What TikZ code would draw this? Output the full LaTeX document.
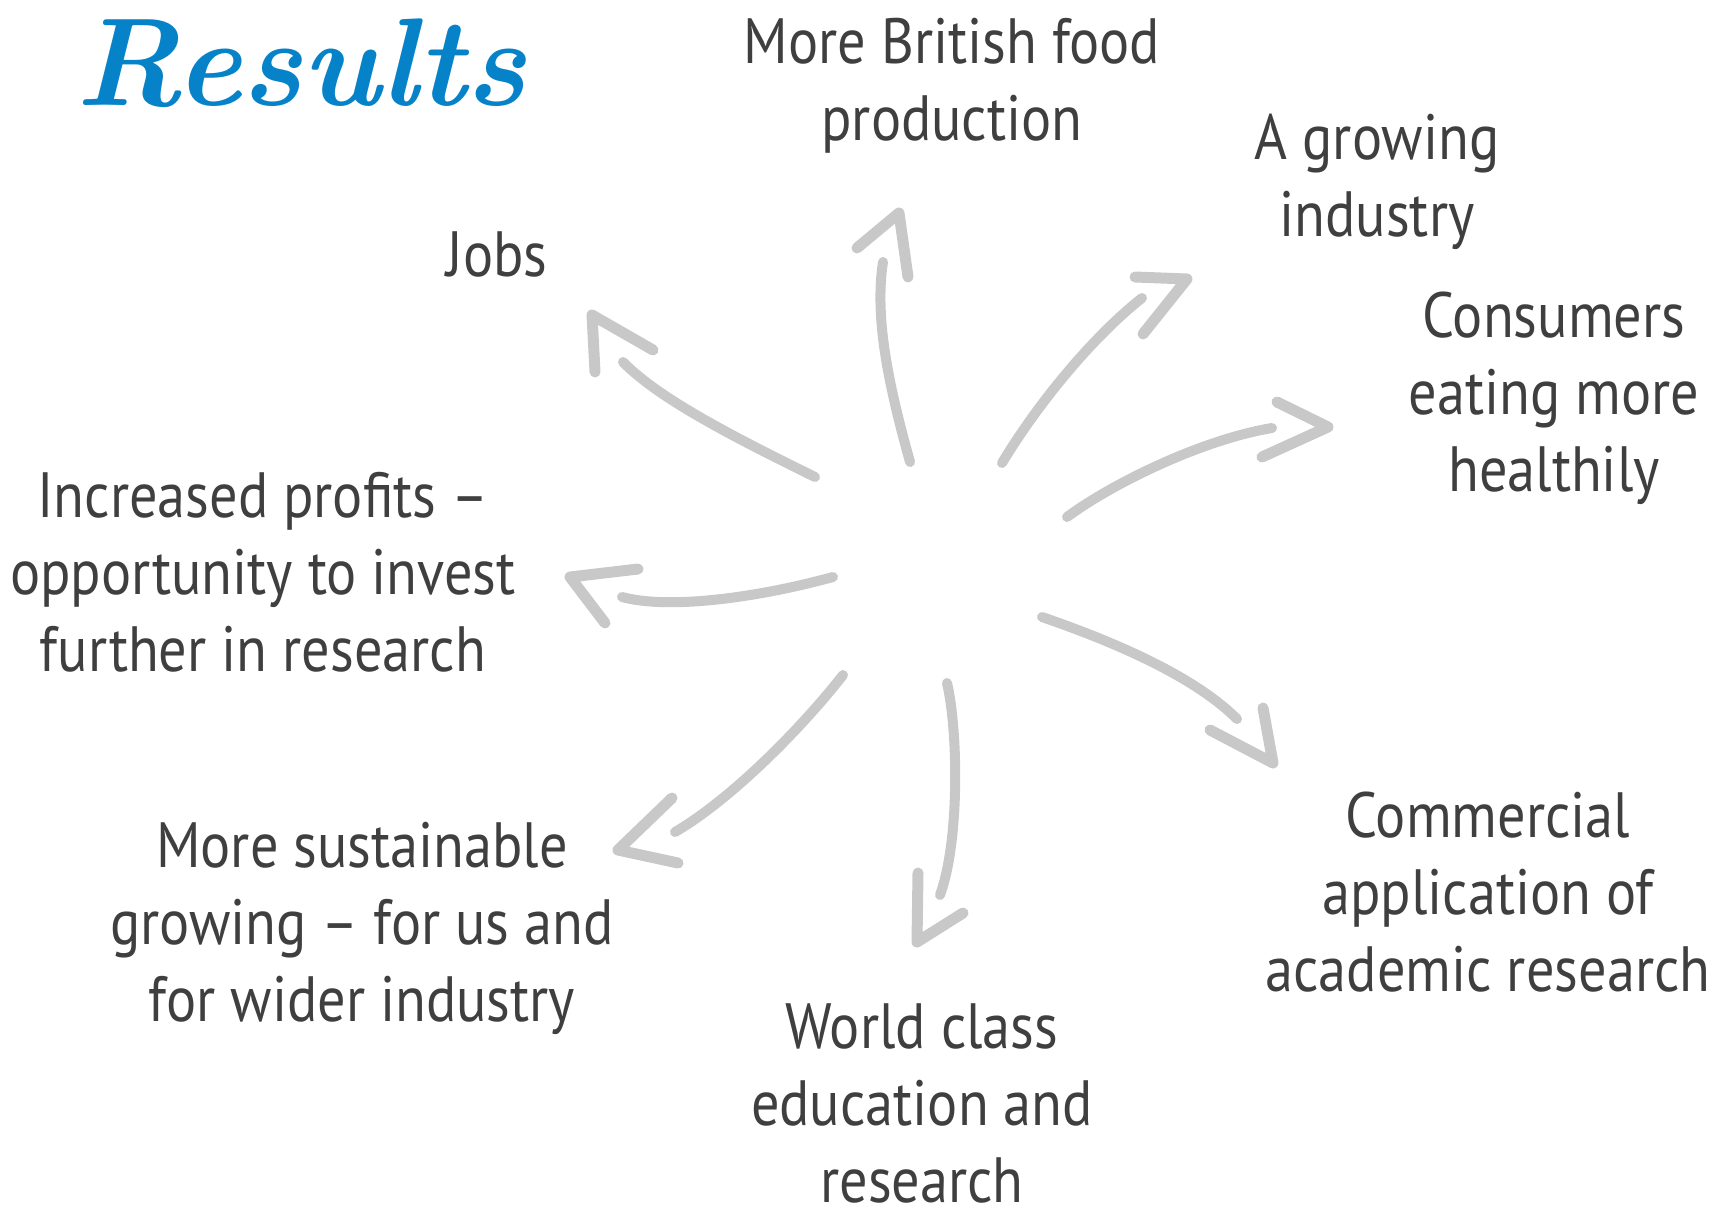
\documentclass[tikz,border=0pt]{standalone}
\usepackage{fontspec}
\newfontfamily\labelfont[FakeStretch=0.88]{PT Sans}
\definecolor{labelgray}{HTML}{3F3F3F}
\definecolor{arrowgray}{HTML}{C8C8C8}
\definecolor{titleblue}{HTML}{0582C8}
\begin{document}
\begin{tikzpicture}[x=1pt,y=-1pt,
  lbl/.style={font=\labelfont\fontsize{64}{77}\selectfont, text=labelgray, align=center, anchor=north, inner sep=0pt},
  shaft/.style={draw=arrowgray, line width=10pt, line cap=round},
  head/.style={draw=arrowgray, line width=11pt, line cap=round, line join=round}]
\useasboundingbox (0,0) rectangle (1715,1205);

% title
\node[anchor=base west, inner sep=0pt, text=titleblue, font=\fontsize{125}{130}\selectfont\bfseries\itshape] (title) at (75,105) {Results};

% labels
\node[lbl] (food) at (952,9.1) {\strut More British food\\production};
\node[lbl] (growing) at (1377,105.1) {\strut A growing\\industry};
\node[lbl] (jobs) at (497,222.1) {\strut Jobs};
\node[lbl] (consumers) at (1554,283.1) {\strut Consumers\\eating more\\healthily};
\node[lbl] (profits) at (263,463.1) {\strut Increased profits –\\opportunity to invest\\further in research};
\node[lbl] (sustainable) at (362,813.1) {\strut More sustainable\\growing – for us and\\for wider industry};
\node[lbl] (commercial) at (1488,783.1) {\strut Commercial\\application of\\academic research};
\node[lbl] (world) at (922,994.1) {\strut World class\\education and\\research};

% arrow coordinates
\coordinate (jS) at (815,477); \coordinate (jE) at (623,362);
\coordinate (jT) at (592,315); \coordinate (jL) at (653,350); \coordinate (jR) at (595,372);

\coordinate (fS) at (910,462); \coordinate (fE) at (883,262);
\coordinate (fT) at (899,213); \coordinate (fL) at (857,248); \coordinate (fR) at (908,277);

\coordinate (gS) at (1002,463); \coordinate (gE) at (1142,298);
\coordinate (gT) at (1187,279); \coordinate (gL) at (1135,277); \coordinate (gR) at (1143,334);

\coordinate (cS) at (1067,517); \coordinate (cE) at (1272,428);
\coordinate (cT) at (1328,427); \coordinate (cL) at (1277,402); \coordinate (cR) at (1262,457);

\coordinate (pS) at (833,577); \coordinate (pE) at (622,597);
\coordinate (pT) at (570,577); \coordinate (pL) at (638,569); \coordinate (pR) at (605,623);

\coordinate (sS) at (843,675); \coordinate (sE) at (675,832);
\coordinate (sT) at (618,850); \coordinate (sL) at (672,798); \coordinate (sR) at (678,863);

\coordinate (wS) at (947,683); \coordinate (wE) at (940,895);
\coordinate (wT) at (917,942); \coordinate (wL) at (918,873); \coordinate (wR) at (963,913);

\coordinate (aS) at (1042,617); \coordinate (aE) at (1237,719);
\coordinate (aT) at (1273,763); \coordinate (aL) at (1263,708); \coordinate (aR) at (1210,730);

% shafts
\draw[shaft] (jS) .. controls (740,440) and (660,400) .. (jE);
\draw[shaft] (fS) .. controls (890,390) and (874,320) .. (fE);
\draw[shaft] (gS) .. controls (1040,400) and (1095,335) .. (gE);
\draw[shaft] (cS) .. controls (1110,485) and (1200,440) .. (cE);
\draw[shaft] (pS) .. controls (760,597) and (670,610) .. (pE);
\draw[shaft] (sS) .. controls (800,730) and (730,800) .. (sE);
\draw[shaft] (wS) .. controls (958,730) and (960,840) .. (wE);
\draw[shaft] (aS) .. controls (1100,637) and (1190,672) .. (aE);

% heads
\draw[head] (jL) -- (jT) -- (jR);
\draw[head] (fL) -- (fT) -- (fR);
\draw[head] (gL) -- (gT) -- (gR);
\draw[head] (cL) -- (cT) -- (cR);
\draw[head] (pL) -- (pT) -- (pR);
\draw[head] (sL) -- (sT) -- (sR);
\draw[head] (wL) -- (wT) -- (wR);
\draw[head] (aL) -- (aT) -- (aR);
\end{tikzpicture}
\end{document}
